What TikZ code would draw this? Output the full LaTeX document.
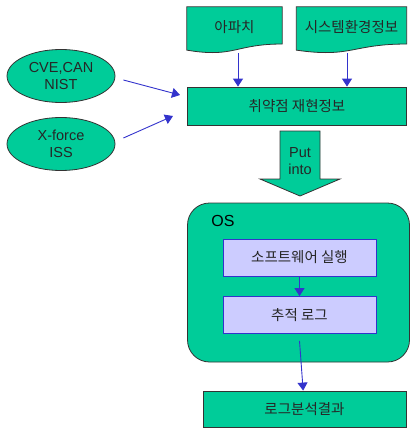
\documentclass[tikz,border=0pt]{standalone}
\usepackage{fontspec}
\setmainfont{Liberation Sans}
\newfontfamily\kr{Noto Sans CJK KR}
\usetikzlibrary{arrows.meta,calc,shapes.geometric}

\definecolor{flowgreen}{HTML}{00CC99}
\definecolor{flowblue}{HTML}{3333CC}
\definecolor{lavender}{HTML}{CCCCFF}

\begin{document}
\begin{tikzpicture}[x=1pt,y=-1pt,
    every node/.style={font=\fontsize{14.5}{17}\selectfont, text=black!85, align=center},
    hangul/.style={font=\kr\fontsize{14.5}{17}\selectfont},
    greenbox/.style={rectangle, fill=flowgreen, draw=black!80, line width=0.8pt, inner sep=0pt},
    docbox/.style={rectangle, inner sep=0pt, minimum height=46pt},
    source/.style={ellipse, fill=flowgreen, draw=black!80, line width=0.8pt, minimum width=108pt, minimum height=53pt, inner sep=0pt},
    innerbox/.style={rectangle, fill=lavender, draw=flowblue, line width=0.8pt, minimum width=153pt, minimum height=37pt},
    feed/.style={draw=flowblue, line width=0.9pt, -{Triangle[length=8pt,width=10pt]}}]

    \useasboundingbox (0,0) rectangle (410,428);

    % --- Documents ---
    \node[docbox, minimum width=95pt]  (apache) at (234.5,30) {};
    \node[docbox, minimum width=110pt] (sysenv) at (351.5,30) {};
    \foreach \n in {apache,sysenv}
        \filldraw[fill=flowgreen, draw=black!80, line width=0.8pt]
            (\n.north west) -- (\n.north east) -- ($(\n.north east)!0.802!(\n.south east)$)
            .. controls ($(\n.north)!0.802!(\n.south)$) and ($(\n.north)!1.107!(\n.south)$) ..
            ($(\n.north west)!0.934!(\n.south west)$) -- cycle;
    \node[hangul] at (234.5,27) {아파치};
    \node[hangul] at (351.5,27) {시스템환경정보};

    % --- Sources ---
    \node[source] (cve)    at (61,76)  {CVE,CAN\\NIST};
    \node[source] (xforce) at (61,144) {X-force\\ISS};

    % --- Vulnerability info ---
    \node[greenbox, hangul, minimum width=219pt, minimum height=38pt] (vuln) at (297,106) {취약점 재현정보};

    % --- Put into ---
    \node (put) at (300,161) {Put\\into};
    \filldraw[fill=flowgreen, draw=black!80, line width=0.8pt]
        ($(put)+(-20,-30)$) -- ($(put)+(20,-30)$) -- ($(put)+(20,18)$) -- ($(put)+(40,18)$)
        -- ($(put)+(0,35)$) -- ($(put)+(-40,18)$) -- ($(put)+(-20,18)$) -- cycle;
    \node at (put) {Put\\into};

    % --- OS ---
    \node[greenbox, rounded corners=22pt, minimum width=222pt, minimum height=159pt] (os) at (298.5,282.5) {};
    \node[font=\fontsize{16}{17}\selectfont, text=black] (oslabel) at (223,221) {OS};
    \node[innerbox, hangul] (run)   at (299.5,257.5) {소프트웨어 실행};
    \node[innerbox, hangul] (trace) at (299.5,315)   {추적 로그};

    % --- Result ---
    \node[greenbox, hangul, minimum width=203pt, minimum height=36pt] (result) at (304.5,409) {로그분석결과};

    % --- Arrows ---
    \coordinate (cveend)    at (180,95);
    \coordinate (xforceend) at (173,116);
    \draw[feed] ([xshift=8pt]cve.east |- 0,80) -- (cveend);
    \draw[feed] ([xshift=8pt]xforce.east |- 0,138) -- (xforceend);
    \draw[feed] (apache.south) ++(3.5,0) coordinate (a1) -- (a1 |- vuln.north);
    \draw[feed] (sysenv.south) ++(-4.5,0) coordinate (s1) -- (s1 |- vuln.north);
    \draw[feed] (run) -- (trace);
    \draw[feed] ([yshift=-7pt]trace.south) -- (result);

\end{tikzpicture}
\end{document}
